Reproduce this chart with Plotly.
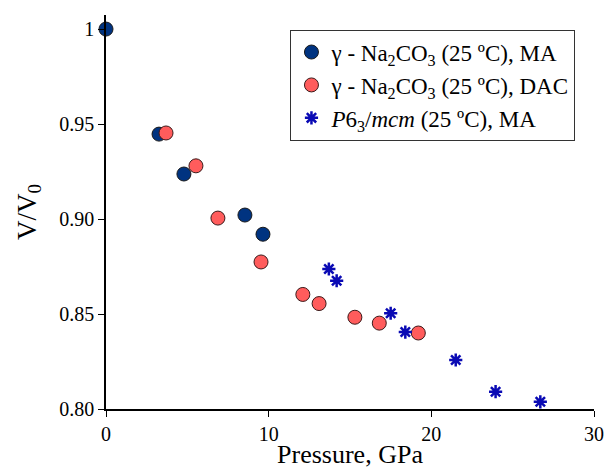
import plotly.graph_objects as go

# Data
ma_p = [0.0, 3.26, 4.79, 8.54, 9.65]
ma_v = [1.000, 0.9447, 0.9237, 0.9021, 0.892]

dac_p = [3.69, 5.53, 6.88, 9.53, 12.1, 13.1, 15.3, 16.8, 19.2]
dac_v = [0.9453, 0.928, 0.9005, 0.8774, 0.8603, 0.8555, 0.8483, 0.8452, 0.8400]

p6_p = [13.7, 14.18, 17.5, 18.4, 21.5, 23.95, 26.7]
p6_v = [0.8737, 0.8675, 0.8504, 0.8405, 0.8258, 0.8091, 0.8038]

x_ticks = [0, 10, 20, 30]
y_ticks = [0.80, 0.85, 0.90, 0.95, 1.0]
y_ticktext = ["0.80", "0.85", "0.90", "0.95", "1"]

names = [
    "γ - Na<sub>2</sub>CO<sub>3</sub> (25 ºC), MA",
    "γ - Na<sub>2</sub>CO<sub>3</sub> (25 ºC), DAC",
    "<i>P</i>6<sub>3</sub>/<i>mcm</i> (25 ºC), MA",
]

font_family = "Liberation Serif, Times New Roman, serif"

fig = go.Figure()
fig.add_trace(go.Scatter(
    x=ma_p, y=ma_v, mode="markers", name=names[0], cliponaxis=False,
    marker=dict(symbol="circle", size=14, color="#003380",
                line=dict(color="#1a1a1a", width=1)),
))
fig.add_trace(go.Scatter(
    x=dac_p, y=dac_v, mode="markers", name=names[1], cliponaxis=False,
    marker=dict(symbol="circle", size=14, color="#ff5c5c",
                line=dict(color="#3a1a1a", width=1)),
))
fig.add_trace(go.Scatter(
    x=p6_p, y=p6_v, mode="markers", name=names[2], cliponaxis=False,
    marker=dict(symbol="asterisk-open", size=11, color="#0a0ab4",
                line=dict(color="#0a0ab4", width=2.5)),
))

fig.update_layout(
    width=604, height=469,
    margin=dict(l=106, r=10, t=15, b=60, autoexpand=False),
    paper_bgcolor="white", plot_bgcolor="white",
    font=dict(family=font_family, size=20, color="black"),
    showlegend=True,
    legend=dict(
        x=0.378, y=0.963, xanchor="left", yanchor="top",
        bordercolor="#333333", borderwidth=1, bgcolor="white",
        font=dict(family=font_family, size=23, color="black"),
        itemsizing="trace", tracegroupgap=0,
    ),
    xaxis=dict(
        range=[0, 30], tickvals=x_ticks, showgrid=False, zeroline=False,
        showline=True, linecolor="black", linewidth=1.5, automargin=False,
        ticks="outside", ticklen=6, tickcolor="black", tickwidth=1.2,
        tickfont=dict(family=font_family, size=20),
        title=dict(text="Pressure, GPa", font=dict(family=font_family, size=26)),
    ),
    yaxis=dict(
        range=[0.80, 1.0074], tickvals=y_ticks, ticktext=y_ticktext,
        showgrid=False, zeroline=False, automargin=False,
        showline=True, linecolor="black", linewidth=1.5,
        ticks="outside", ticklen=6, tickcolor="black", tickwidth=1.2,
        tickfont=dict(family=font_family, size=20),
        title=dict(text="V/V<sub>0</sub>", font=dict(family=font_family, size=27)),
    ),
)

fig.write_html("out.html")
